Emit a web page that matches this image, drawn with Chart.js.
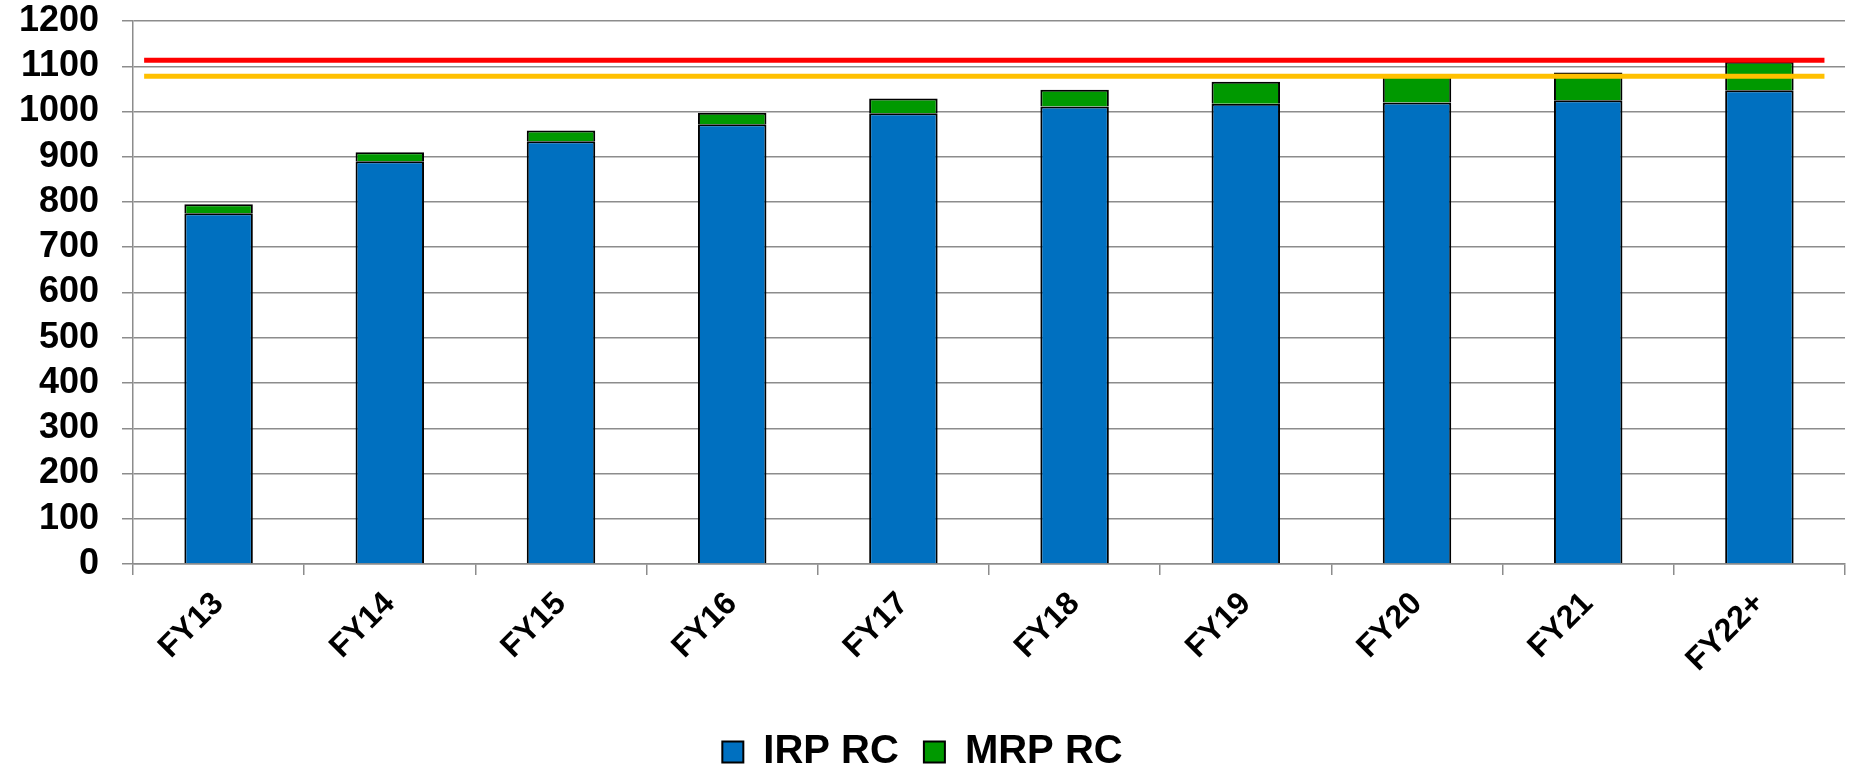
<!DOCTYPE html>
<html>
<head>
<meta charset="utf-8">
<script src="https://cdn.jsdelivr.net/npm/chart.js@4/dist/chart.umd.min.js"></script>
<style>
html,body{margin:0;padding:0;background:#fff;}
#wrap{width:1853px;height:767px;}
</style>
</head>
<body>
<div id="wrap"><canvas id="c" width="1853" height="767"></canvas></div>
<script>
const categories = ['FY13','FY14','FY15','FY16','FY17','FY18','FY19','FY20','FY21','FY22+'];
const irpRC = [775, 890, 934, 972, 996, 1011, 1017, 1020, 1025, 1047];
const mrpRC = [20, 20, 24, 25, 33, 37, 49, 60, 61, 63];
const redLimit = 1113;
const yellowLimit = 1078;
const yTicks = [0,100,200,300,400,500,600,700,800,900,1000,1100,1200];

const FONT = '"Liberation Sans", Arial, sans-serif';

new Chart(document.getElementById('c'), {
  type: 'bar',
  data: {
    labels: categories,
    datasets: [
      { label: 'IRP RC', data: irpRC, backgroundColor: '#0070C0', borderColor: '#000', borderWidth: 2, grouped: false, barPercentage: 0.8, categoryPercentage: 0.5, order: 2 },
      { label: 'MRP RC', data: mrpRC, backgroundColor: '#009900', borderColor: '#000', borderWidth: 2, grouped: false, barPercentage: 0.8, categoryPercentage: 0.5, order: 2 },
      { type: 'line', label: 'Limit 1', xAxisID: 'xl', stack: 'red', data: [{x:0.065, y:redLimit},{x:9.88, y:redLimit}], borderColor: '#FF0000', borderWidth: 5, pointRadius: 0, fill: false, order: 0 },
      { type: 'line', label: 'Limit 2', xAxisID: 'xl', stack: 'yellow', data: [{x:0.065, y:yellowLimit},{x:9.88, y:yellowLimit}], borderColor: '#FFC000', borderWidth: 5, pointRadius: 0, fill: false, order: 1 }
    ]
  },
  options: {
    responsive: false,
    animation: false,
    layout: { padding: { top: 21, right: 8, bottom: -15, left: 0 } },
    plugins: {
      tooltip: { enabled: false },
      legend: {
        position: 'bottom',
        labels: {
          filter: (item) => item.datasetIndex < 2,
          boxWidth: 21, boxHeight: 21,
          color: '#000',
          padding: 25,
          font: { family: FONT, size: 40, weight: 'bold' }
        }
      }
    },
    scales: {
      x: {
        stacked: true,
        offset: true,
        grid: { display: true, drawOnChartArea: false, drawTicks: true, tickLength: 11, color: '#8c8c8c', lineWidth: 1.5, offset: true },
        border: { display: true, color: '#8c8c8c', width: 1.5 },
        ticks: { color: '#000', minRotation: 45, maxRotation: 45, padding: 10, font: { family: FONT, size: 32, weight: 'bold' } },
        afterFit: (s) => { s.height = 143; }
      },
      xl: {
        type: 'linear', display: false, offset: false, min: 0, max: 10
      },
      y: {
        stacked: true,
        min: 0, max: 1200,
        afterBuildTicks: (s) => { s.ticks = yTicks.map(v => ({ value: v })); },
        grid: { color: '#8c8c8c', lineWidth: 1.5, tickLength: 11 },
        border: { display: true, color: '#8c8c8c', width: 1.5 },
        ticks: { color: '#000', padding: 23, autoSkip: false, callback: (v) => String(v), font: { family: FONT, size: 36, weight: 'bold' } },
        afterFit: (s) => { s.width = 133; s.paddingTop = 0; }
      }
    }
  }
});
</script>
</body>
</html>
